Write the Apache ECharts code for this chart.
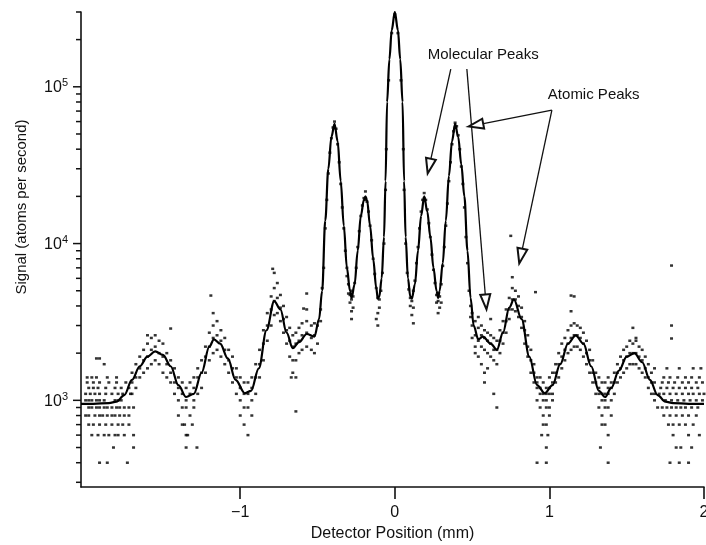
<!DOCTYPE html>
<html>
<head>
<meta charset="utf-8">
<script src="https://cdn.jsdelivr.net/npm/echarts@6/dist/echarts.min.js"></script>
<style>
  html, body { margin: 0; padding: 0; background: #fff; }
  #chart { width: 706px; height: 545px; }
</style>
</head>
<body>
<div id="chart"></div>
<script>
// axis ranges
const X_MIN = -2.03, X_MAX = 2;
const Y_MIN = 280, Y_MAX = 300000;
const xTickValues = [-1, 0, 1, 2];
const yMajorTicks = [1000, 10000, 100000];
const yMinorTicks = [300, 400, 500, 600, 700, 800, 900,
  2000, 3000, 4000, 5000, 6000, 7000, 8000, 9000,
  20000, 30000, 40000, 50000, 60000, 70000, 80000, 90000,
  200000, 300000];

// fitted curve
const curveX = [-2.03, -1.95, -1.85, -1.80, -1.75, -1.70, -1.65, -1.60, -1.55, -1.50, -1.45, -1.40, -1.35, -1.30,
  -1.25, -1.20, -1.17, -1.13, -1.08, -1.03, -0.97, -0.93, -0.88, -0.83, -0.78, -0.74, -0.70, -0.66, -0.62,
  -0.57, -0.52, -0.49, -0.47, -0.45, -0.43, -0.41, -0.39, -0.37, -0.35, -0.33, -0.31, -0.29, -0.28, -0.26,
  -0.24, -0.22, -0.20, -0.19, -0.18, -0.16, -0.14, -0.12, -0.11, -0.10, -0.085, -0.07, -0.06, -0.05, -0.035,
  -0.02, 0, 0.02, 0.035, 0.05, 0.06, 0.07, 0.085, 0.10, 0.11, 0.13, 0.15, 0.17, 0.19, 0.21, 0.23, 0.25,
  0.27, 0.28, 0.29, 0.31, 0.33, 0.35, 0.37, 0.39, 0.41, 0.43, 0.45, 0.47, 0.49, 0.51, 0.54, 0.57, 0.62,
  0.66, 0.70, 0.74, 0.77, 0.82, 0.87, 0.92, 0.97, 1.02, 1.07, 1.12, 1.17, 1.22, 1.27, 1.32, 1.36, 1.40,
  1.45, 1.50, 1.55, 1.60, 1.65, 1.70, 1.75, 1.80, 1.90, 2.0];
const curveY = [950, 950, 960, 980, 1080, 1350, 1650, 1900, 2050, 1950, 1650, 1250, 1050, 1100,
  1500, 2200, 2450, 2300, 1850, 1350, 1110, 1150, 1600, 2800, 4300, 3800, 2700, 2150, 2350,
  2650, 2550, 3300, 5000, 14000, 30000, 48000, 58000, 45000, 25000, 13000, 7000, 5000, 4500, 5500,
  9000, 15000, 19000, 20000, 19000, 13000, 8000, 5200, 4450, 4600, 6000, 11000, 25000, 80000, 150000,
  230000, 300000, 230000, 150000, 80000, 25000, 11000, 6000, 4600, 4450, 5500, 9000, 15000, 20000, 16000, 11000, 7000,
  5000, 4500, 5000, 7500, 14000, 27000, 45000, 58000, 48000, 32000, 20000, 9000, 4500, 3000, 2450, 2550, 2300,
  2100, 2700, 3900, 4400, 3300, 1900, 1250, 1110, 1250, 1700, 2300, 2600, 2300, 1650, 1150, 1050, 1200,
  1550, 1900, 2000, 1750, 1350, 1080, 980, 960, 950, 950];

// measured points, left background and oscillations
const scatterLeft = [
  [-1.99,1400],[-1.96,1400],[-1.93,1400],[-1.86,1400],[-1.80,1400],
  [-1.99,1300],[-1.95,1300],[-1.91,1300],[-1.85,1300],[-1.80,1300],[-1.74,1300],
  [-1.98,1200],[-1.95,1200],[-1.92,1200],[-1.87,1200],[-1.81,1200],[-1.77,1200],[-1.72,1200],
  [-2.0,1100],[-1.97,1100],[-1.94,1100],[-1.91,1100],[-1.87,1100],[-1.83,1100],[-1.79,1100],[-1.76,1100],[-1.71,1100],
  [-2.0,1000],[-1.98,1000],[-1.96,1000],[-1.93,1000],[-1.91,1000],[-1.88,1000],[-1.81,1000],[-1.79,1000],[-1.77,1000],
  [-1.98,900],[-1.96,900],[-1.93,900],[-1.91,900],[-1.88,900],[-1.86,900],[-1.83,900],[-1.80,900],[-1.78,900],[-1.75,900],[-1.72,900],[-1.69,900],
  [-2.0,800],[-1.98,800],[-1.94,800],[-1.91,800],[-1.89,800],[-1.86,800],[-1.83,800],[-1.81,800],[-1.78,800],[-1.75,800],[-1.72,800],
  [-1.98,700],[-1.95,700],[-1.91,700],[-1.87,700],[-1.83,700],[-1.79,700],[-1.76,700],[-1.72,700],
  [-1.96,600],[-1.92,600],[-1.88,600],[-1.85,600],[-1.81,600],[-1.79,600],[-1.75,600],[-1.69,600],
  [-1.82,500],[-1.69,500],[-1.91,400],[-1.86,400],[-1.73,400],
  [-1.93,1850],[-1.91,1850],[-1.88,1700],
  [-1.70,1100],[-1.70,1300],[-1.70,1500],[-1.675,1200],[-1.675,1400],[-1.675,1700],
  [-1.65,1400],[-1.65,1600],[-1.65,1900],[-1.625,1500],[-1.625,1800],[-1.625,2100],
  [-1.60,1600],[-1.60,1900],[-1.60,2300],[-1.60,2600],[-1.575,1700],[-1.575,2100],[-1.575,2500],
  [-1.55,1800],[-1.55,2200],[-1.55,2600],[-1.525,1700],[-1.525,2000],[-1.525,2400],
  [-1.50,1500],[-1.50,1900],[-1.50,2300],[-1.475,1400],[-1.475,1700],[-1.475,2000],
  [-1.45,1300],[-1.45,1500],[-1.45,1800],[-1.45,2870],[-1.425,1100],[-1.425,1300],[-1.425,1600],
  [-1.40,1000],[-1.40,1200],[-1.40,1400],[-1.40,800],[-1.375,900],[-1.375,1100],[-1.375,1300],[-1.375,700],
  [-1.35,900],[-1.35,1000],[-1.35,1200],[-1.35,600],[-1.325,800],[-1.325,1100],[-1.325,1300],
  [-1.30,900],[-1.30,1000],[-1.30,1200],[-1.30,1400],[-1.36,700],[-1.34,600],[-1.31,700],[-1.28,500],[-1.35,500],
  [-1.275,1100],[-1.275,1400],[-1.275,1600],[-1.25,1200],[-1.25,1500],[-1.25,1800],
  [-1.225,1500],[-1.225,1900],[-1.225,2200],[-1.20,1800],[-1.20,2200],[-1.20,2700],
  [-1.175,2000],[-1.175,2500],[-1.175,3000],[-1.175,3600],[-1.19,4660],[-1.15,2100],[-1.15,2600],[-1.15,3200],
  [-1.125,1900],[-1.125,2400],[-1.125,2800],[-1.10,1700],[-1.10,2100],[-1.10,2500],
  [-1.075,1500],[-1.075,1800],[-1.075,2100],[-1.05,1300],[-1.05,1600],[-1.05,1900],
  [-1.025,1100],[-1.025,1400],[-1.025,1600],[-1.0,1000],[-1.0,1200],[-1.0,1400],[-1.0,800],
  [-0.975,900],[-0.975,1100],[-0.975,1300],[-0.975,700],[-0.95,900],[-0.95,1100],[-0.95,1300],[-0.95,600],
  [-0.925,1000],[-0.925,1200],[-0.925,1400],[-0.925,800],[-0.90,1100],[-0.90,1400],[-0.90,1700],
  [-0.875,1400],[-0.875,1700],[-0.875,2100],[-0.85,1800],[-0.85,2300],[-0.85,2800],
  [-0.825,2400],[-0.825,3000],[-0.825,3600],[-0.80,3000],[-0.80,3800],[-0.80,4600],
  [-0.78,3500],[-0.78,4300],[-0.78,5200],[-0.78,6500],[-0.79,6900],[-0.76,3600],[-0.76,4500],[-0.76,5600],
  [-0.74,3200],[-0.74,3900],[-0.74,4700],[-0.72,2700],[-0.72,3300],[-0.72,4000],
  [-0.70,2300],[-0.70,2800],[-0.70,3400],[-0.68,1900],[-0.68,2400],[-0.68,2900],
  [-0.66,1800],[-0.66,2200],[-0.66,2600],[-0.66,1500],[-0.64,1800],[-0.64,2300],[-0.64,2700],[-0.64,1400],
  [-0.62,2000],[-0.62,2400],[-0.62,2900],[-0.60,2100],[-0.60,2600],[-0.60,3100],
  [-0.57,2200],[-0.57,2700],[-0.57,3200],[-0.57,3800],[-0.57,4800],[-0.59,3850],
  [-0.54,2100],[-0.54,2500],[-0.54,3000],[-0.52,2000],[-0.52,2600],[-0.52,3100],
  [-0.50,2300],[-0.50,3000],[-0.64,850],[-0.67,1400]
];

// measured points around the central peaks
const scatterMid = [
  [-0.48,3800],[-0.48,3200],[-0.47,5200],[-0.46,7000],[-0.45,12500],[-0.44,19000],[-0.43,28000],
  [-0.42,38000],[-0.41,47000],[-0.40,55000],[-0.39,60000],[-0.39,56000],[-0.38,54000],[-0.37,43000],
  [-0.36,33000],[-0.35,24000],[-0.34,17000],[-0.33,12500],[-0.32,9000],[-0.31,7000],[-0.31,6200],
  [-0.30,5500],[-0.30,4800],[-0.29,4700],[-0.29,4200],[-0.28,4400],[-0.28,3700],[-0.28,5000],[-0.28,3300],
  [-0.27,4600],[-0.27,3900],[-0.26,5600],[-0.25,7000],[-0.24,9500],[-0.23,12000],[-0.22,15000],
  [-0.21,17500],[-0.20,19500],[-0.19,21500],[-0.19,19000],[-0.18,18500],[-0.17,16000],[-0.16,13000],
  [-0.15,10500],[-0.14,8000],[-0.13,6400],[-0.12,5200],[-0.12,3300],[-0.11,4500],[-0.11,3600],[-0.11,3000],
  [-0.10,4400],[-0.10,3900],[-0.09,5000],[-0.08,6500],[-0.07,10000],[-0.06,22000],[-0.055,40000],
  [-0.04,110000],[-0.02,220000],[0,290000],[0.02,220000],[0.04,110000],[0.055,40000],[0.06,22000],
  [0.07,10000],[0.08,6500],[0.09,5100],[0.10,4500],[0.10,4000],[0.11,4300],[0.11,3500],[0.12,5000],
  [0.12,3900],[0.12,3100],[0.13,5800],[0.14,7500],[0.15,9500],[0.16,12500],[0.17,16000],[0.18,19000],
  [0.19,21000],[0.19,19500],[0.20,19000],[0.21,16500],[0.22,13500],[0.23,11000],[0.24,8500],[0.25,6800],
  [0.26,5600],[0.27,4700],[0.27,4200],[0.28,4300],[0.28,3600],[0.29,4600],[0.29,3900],[0.30,5500],
  [0.30,4200],[0.31,7200],[0.32,9500],[0.33,13000],[0.34,18000],[0.35,25000],[0.36,33000],[0.37,43000],
  [0.38,52000],[0.39,59000],[0.39,55000],[0.40,56000],[0.41,49000],[0.42,40000],[0.43,31000],
  [0.44,24000],[0.45,17000],[0.46,11000],[0.47,7500],[0.48,5000],[0.49,4000],[0.49,3400]
];

// measured points, right oscillations and background
const scatterRight = [
  [0.50,3000],[0.50,2500],[0.50,3600],[0.52,2600],[0.52,2200],[0.52,3200],[0.52,2000],
  [0.54,2400],[0.54,2900],[0.54,1900],[0.54,3400],[0.56,2600],[0.56,2200],[0.56,3000],[0.56,1700],
  [0.58,2500],[0.58,2100],[0.58,2800],[0.58,1500],[0.58,1300],[0.60,2400],[0.60,2000],[0.60,2700],[0.60,1600],
  [0.62,2300],[0.62,1900],[0.62,2600],[0.62,3300],[0.64,2100],[0.64,1800],[0.64,2500],[0.64,1100],
  [0.66,2100],[0.66,1700],[0.66,2400],[0.66,900],[0.68,2400],[0.68,2000],[0.68,2800],
  [0.70,2700],[0.70,2300],[0.70,3200],[0.72,3200],[0.72,2700],[0.72,3800],
  [0.74,3800],[0.74,3300],[0.74,4500],[0.76,4400],[0.76,3800],[0.76,5200],[0.76,6100],[0.75,11200],
  [0.78,4400],[0.78,3700],[0.78,5000],[0.80,4000],[0.80,3400],[0.80,4600],
  [0.82,3400],[0.82,2900],[0.82,3900],[0.84,2800],[0.84,2300],[0.84,3200],
  [0.86,2200],[0.86,1900],[0.86,2600],[0.88,1800],[0.88,1500],[0.88,2100],
  [0.90,1500],[0.90,1300],[0.90,1700],[0.91,4900],
  [0.92,1300],[0.92,1200],[0.92,1000],[0.92,1400],[0.94,1200],[0.94,1100],[0.94,900],[0.94,1400],
  [0.96,1100],[0.96,1000],[0.96,800],[0.96,1300],[0.96,700],[0.98,1100],[0.98,1000],[0.98,900],[0.98,1200],[0.98,700],[0.98,500],
  [1.00,1200],[1.00,1100],[1.00,900],[1.00,1400],[1.00,800],[1.02,1300],[1.02,1100],[1.02,1500],[1.02,1000],
  [0.95,600],[0.99,600],[0.92,400],[0.98,400],
  [1.04,1500],[1.04,1300],[1.04,1700],[1.06,1700],[1.06,1400],[1.06,2000],[1.08,1900],[1.08,1600],[1.08,2300],
  [1.10,2100],[1.10,1800],[1.10,2500],[1.12,2300],[1.12,2000],[1.12,2800],
  [1.14,2500],[1.14,2100],[1.14,3000],[1.14,3700],[1.14,4660],[1.16,2600],[1.16,2200],[1.16,3100],[1.16,4600],
  [1.18,2600],[1.18,2200],[1.18,3000],[1.20,2500],[1.20,2100],[1.20,2900],[1.22,2300],[1.22,1900],[1.22,2700],
  [1.24,2000],[1.24,1700],[1.24,2400],[1.26,1800],[1.26,1500],[1.26,2100],[1.28,1500],[1.28,1300],[1.28,1800],
  [1.30,1300],[1.30,1100],[1.30,1500],
  [1.32,1200],[1.32,1100],[1.32,900],[1.32,1400],[1.34,1100],[1.34,1000],[1.34,800],[1.34,1300],[1.34,700],
  [1.36,1000],[1.36,900],[1.36,1100],[1.36,1300],[1.36,700],[1.38,1100],[1.38,900],[1.38,1200],[1.38,1400],[1.38,600],
  [1.40,1200],[1.40,1000],[1.40,1300],[1.40,800],[1.42,1300],[1.42,1100],[1.42,1500],[1.33,500],[1.38,400],
  [1.44,1500],[1.44,1300],[1.44,1700],[1.46,1600],[1.46,1400],[1.46,1900],[1.48,1800],[1.48,1500],[1.48,2100],
  [1.50,1900],[1.50,1600],[1.50,2200],[1.52,2000],[1.52,1700],[1.52,2400],
  [1.54,2000],[1.54,1700],[1.54,2300],[1.54,2900],[1.56,2000],[1.56,1700],[1.56,2400],[1.56,2500],
  [1.58,1900],[1.58,1600],[1.58,2200],[1.60,1800],[1.60,1500],[1.60,2100],
  [1.62,1600],[1.62,1400],[1.62,1900],[1.64,1400],[1.64,1200],[1.64,1700],
  [1.66,1300],[1.66,1100],[1.66,1500],[1.68,1100],[1.68,1000],[1.68,1300],[1.68,1600],
  [1.76,1600],[1.84,1600],[1.93,1600],[1.98,1600],
  [1.74,1400],[1.78,1400],[1.83,1400],[1.88,1400],[1.92,1400],[1.97,1400],
  [1.73,1300],[1.77,1300],[1.81,1300],[1.86,1300],[1.90,1300],[1.95,1300],[1.99,1300],
  [1.72,1200],[1.76,1200],[1.80,1200],[1.84,1200],[1.88,1200],[1.92,1200],[1.96,1200],
  [1.71,1100],[1.74,1100],[1.78,1100],[1.82,1100],[1.86,1100],[1.90,1100],[1.93,1100],[1.97,1100],[2.0,1100],
  [1.75,1000],[1.79,1000],[1.83,1000],[1.87,1000],[1.91,1000],[1.95,1000],[1.99,1000],
  [1.70,900],[1.73,900],[1.76,900],[1.79,900],[1.82,900],[1.85,900],[1.88,900],[1.92,900],[1.96,900],
  [1.74,800],[1.78,800],[1.82,800],[1.86,800],[1.90,800],[1.95,800],
  [1.77,700],[1.80,700],[1.84,700],[1.88,700],[1.93,700],
  [1.80,600],[1.90,600],[1.97,600],[1.82,500],[1.85,500],[1.92,500],[1.78,400],[1.84,400],[1.90,400],
  [1.79,7240],[1.79,3000],[1.79,2480]
];

// annotation arrows: [start, arrow-head centre] in data units
const molecularArrows = [
  [[0.362, 129800], [0.223, 31200]],
  [[0.466, 129800], [0.589, 4240]]
];
const atomicArrows = [
  [[1.016, 71000], [0.524, 57000]],
  [[1.016, 71000], [0.815, 8320]]
];
const molecularLabelAt = [0.213, 159000];
const atomicLabelAt = [0.99, 88500];

const FONT = 'Liberation Sans, Arial, Helvetica, sans-serif';

const chart = echarts.init(document.getElementById('chart'), null, { renderer: 'canvas' });

const curveData = curveX.map((x, i) => [x, curveY[i]]);
const scatterData = scatterLeft.concat(scatterMid, scatterRight);
const tickData = yMajorTicks.map(v => [X_MIN, v, 8]).concat(yMinorTicks.map(v => [X_MIN, v, 5]));

const arrowLine = pairs => pairs.map(p => [{ coord: p[0] }, { coord: p[1] }]);

const option = {
  animation: false,
  backgroundColor: '#fff',
  grid: { left: 81, right: 2, top: 12, bottom: 58, outerBoundsMode: 'none', containLabel: false },
  xAxis: {
    type: 'value',
    min: X_MIN,
    max: X_MAX,
    name: 'Detector Position (mm)',
    nameLocation: 'middle',
    nameGap: 38,
    nameTextStyle: { fontFamily: FONT, fontSize: 16, color: '#111' },
    axisLine: { onZero: false, lineStyle: { color: '#111', width: 1.6 } },
    axisTick: { customValues: xTickValues, length: 12, inside: false, lineStyle: { color: '#111', width: 1.6 } },
    axisLabel: {
      customValues: xTickValues,
      margin: 18,
      fontFamily: FONT,
      fontSize: 16,
      color: '#111',
      formatter: v => (v < 0 ? '\u2212' + Math.abs(v) : String(v))
    },
    splitLine: { show: false }
  },
  yAxis: {
    type: 'log',
    logBase: 10,
    min: Y_MIN,
    max: Y_MAX,
    axisLine: { show: true, onZero: false, lineStyle: { color: '#111', width: 1.6 } },
    axisTick: { show: false },
    minorTick: { show: false },
    splitLine: { show: false },
    axisLabel: {
      margin: 13,
      color: '#111',
      fontFamily: FONT,
      formatter: v => {
        const lg = Math.log10(v);
        const e = Math.round(lg);
        if (Math.abs(lg - e) > 1e-6) return '';
        return '{b|10}{s|' + e + '}';
      },
      rich: {
        b: { fontFamily: FONT, fontSize: 16, color: '#111', lineHeight: 18, verticalAlign: 'bottom' },
        s: { fontFamily: FONT, fontSize: 11, color: '#111', lineHeight: 18, verticalAlign: 'top', padding: [0, 0, 6, 0] }
      }
    }
  },
  graphic: [{
    type: 'text',
    x: 22,
    y: 207,
    rotation: Math.PI / 2,
    style: {
      text: 'Signal (atoms per second)',
      fontFamily: FONT,
      fontSize: 15,
      fill: '#111',
      textAlign: 'center',
      textVerticalAlign: 'middle'
    }
  }],
  series: [
    {
      type: 'scatter',
      data: scatterData,
      symbol: 'rect',
      symbolSize: [3, 2.5],
      itemStyle: { color: '#000' },
      silent: true,
      z: 2
    },
    {
      type: 'line',
      data: curveData,
      smooth: 0.35,
      smoothMonotone: 'x',
      showSymbol: false,
      lineStyle: { color: '#000', width: 2.2 },
      silent: true,
      z: 3
    },
    {
      // y-axis ticks, outward, major and minor
      type: 'custom',
      data: tickData,
      silent: true,
      clip: false,
      z: 4,
      renderItem: (params, api) => {
        const p = api.coord([api.value(0), api.value(1)]);
        const len = api.value(2);
        return {
          type: 'line',
          shape: { x1: p[0] - len, y1: p[1], x2: p[0], y2: p[1] },
          style: { stroke: '#111', lineWidth: 1.5 }
        };
      }
    },
    {
      // annotations
      type: 'line',
      data: [],
      silent: true,
      markLine: {
        silent: true,
        symbol: ['none', 'emptyTriangle'],
        symbolSize: [10, 15],
        label: { show: false },
        lineStyle: { color: '#111', width: 1.3, type: 'solid' },
        emphasis: { disabled: true },
        data: arrowLine(molecularArrows).concat(arrowLine(atomicArrows))
      },
      markPoint: {
        silent: true,
        symbol: 'circle',
        symbolSize: 0,
        label: {
          show: true,
          position: 'right',
          distance: 0,
          fontFamily: FONT,
          fontSize: 15,
          color: '#111'
        },
        data: [
          { coord: molecularLabelAt, label: { formatter: 'Molecular Peaks' } },
          { coord: atomicLabelAt, label: { formatter: 'Atomic Peaks' } }
        ]
      }
    }
  ]
};

chart.setOption(option);
</script>
</body>
</html>
